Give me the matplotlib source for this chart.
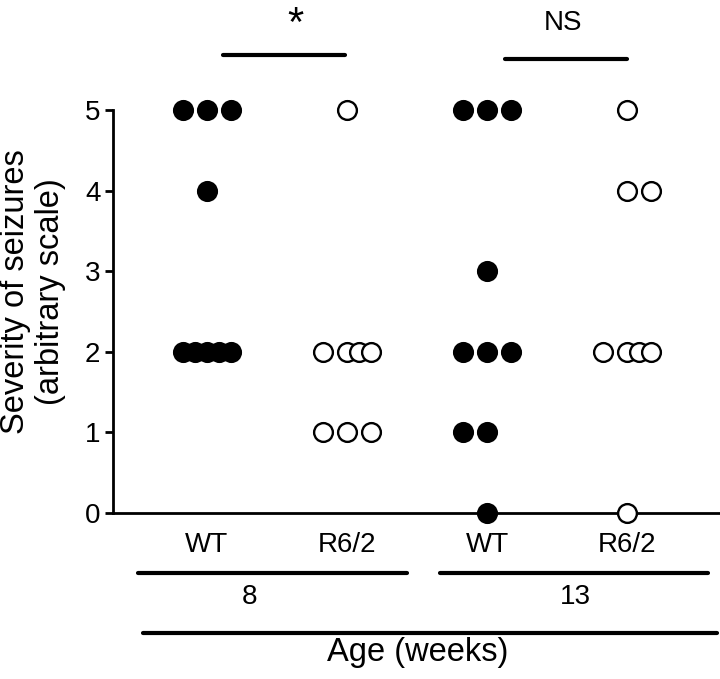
#!/usr/bin/env python3
"""Seizure severity in WT vs R6/2 mice at 8 and 13 weeks (dot plot)."""
import matplotlib
matplotlib.use("Agg")
import matplotlib.pyplot as plt

plt.rcParams["font.family"] = ["Liberation Sans", "DejaVu Sans"]

groups = ["WT", "R6/2", "WT", "R6/2"]
ages = ["8", "13"]
filled = [True, False, True, False]
# severity score of each animal, one list per group
scores = [
    [5, 5, 5, 4, 2, 2, 2, 2, 2],
    [5, 2, 2, 2, 2, 1, 1, 1],
    [5, 5, 5, 3, 2, 2, 2, 1, 1, 0],
    [5, 4, 4, 2, 2, 2, 2, 0],
]
# horizontal slot of each dot within its column (layout only)
slots = [
    [-2, 0, 2, 0, -2, -1, 0, 1, 2],
    [0, -2, 0, 1, 2, -2, 0, 2],
    [-2, 0, 2, 0, -2, 0, 2, -2, 0, 0],
    [0, 0, 2, -2, 0, 1, 2, 0],
]
sig = ["*", "NS"]
slot_w = 0.086

fig = plt.figure(figsize=(7.2, 6.79), dpi=100)
ax = fig.add_axes([113 / 720, 1 - 513 / 679, 1 - 113 / 720, 403 / 679])

for i, (vals, sl) in enumerate(zip(scores, slots)):
    xs = [i + s * slot_w for s in sl]
    ax.plot(xs, vals, "o", ls="none", ms=13.5, mec="black", mew=1.7,
            mfc="black" if filled[i] else "white", clip_on=False, zorder=3)

ax.set_xlim(-0.671, 3.664)
ax.set_ylim(0, 5)
ax.set_yticks(range(6))
ax.set_xticks([])
for s in ("top", "right"):
    ax.spines[s].set_visible(False)
for s in ("left", "bottom"):
    ax.spines[s].set_linewidth(2)
ax.tick_params(axis="y", length=6, width=2, pad=3, labelsize=20)

tr = ax.get_xaxis_transform()
txt = dict(transform=tr, ha="center", va="center", clip_on=False)
for i, g in enumerate(groups):
    ax.text(i, -0.079, g, fontsize=20, **txt)

line = dict(transform=tr, color="black", lw=3, solid_capstyle="round", clip_on=False)
ax.plot([-0.493, 1.429], [-0.149, -0.149], **line)
ax.plot([1.664, 3.579], [-0.149, -0.149], **line)
ax.text(0.307, -0.208, ages[0], fontsize=20, **txt)
ax.text(2.629, -0.208, ages[1], fontsize=20, **txt)
ax.plot([-0.457, 3.643], [-0.298, -0.298], **line)
ax.text(1.507, -0.345, "Age (weeks)", fontsize=23.5, **txt)

ax.plot([0.114, 0.986], [1.1365, 1.1365], **line)
ax.plot([2.129, 3.0], [1.1266, 1.1266], **line)
ax.text(0.629, 1.184, sig[0], fontsize=30, transform=tr, ha="center", va="baseline")
ax.text(2.543, 1.1985, sig[1], fontsize=20, transform=tr, ha="center", va="baseline")

fig.text(33 / 720, 1 - 292 / 679, "Severity of seizures\n(arbitrary scale)",
         rotation=90, ha="center", va="center", fontsize=23.5, linespacing=1.15)

fig.savefig("out.png", dpi=100)
print("wrote out.png")
